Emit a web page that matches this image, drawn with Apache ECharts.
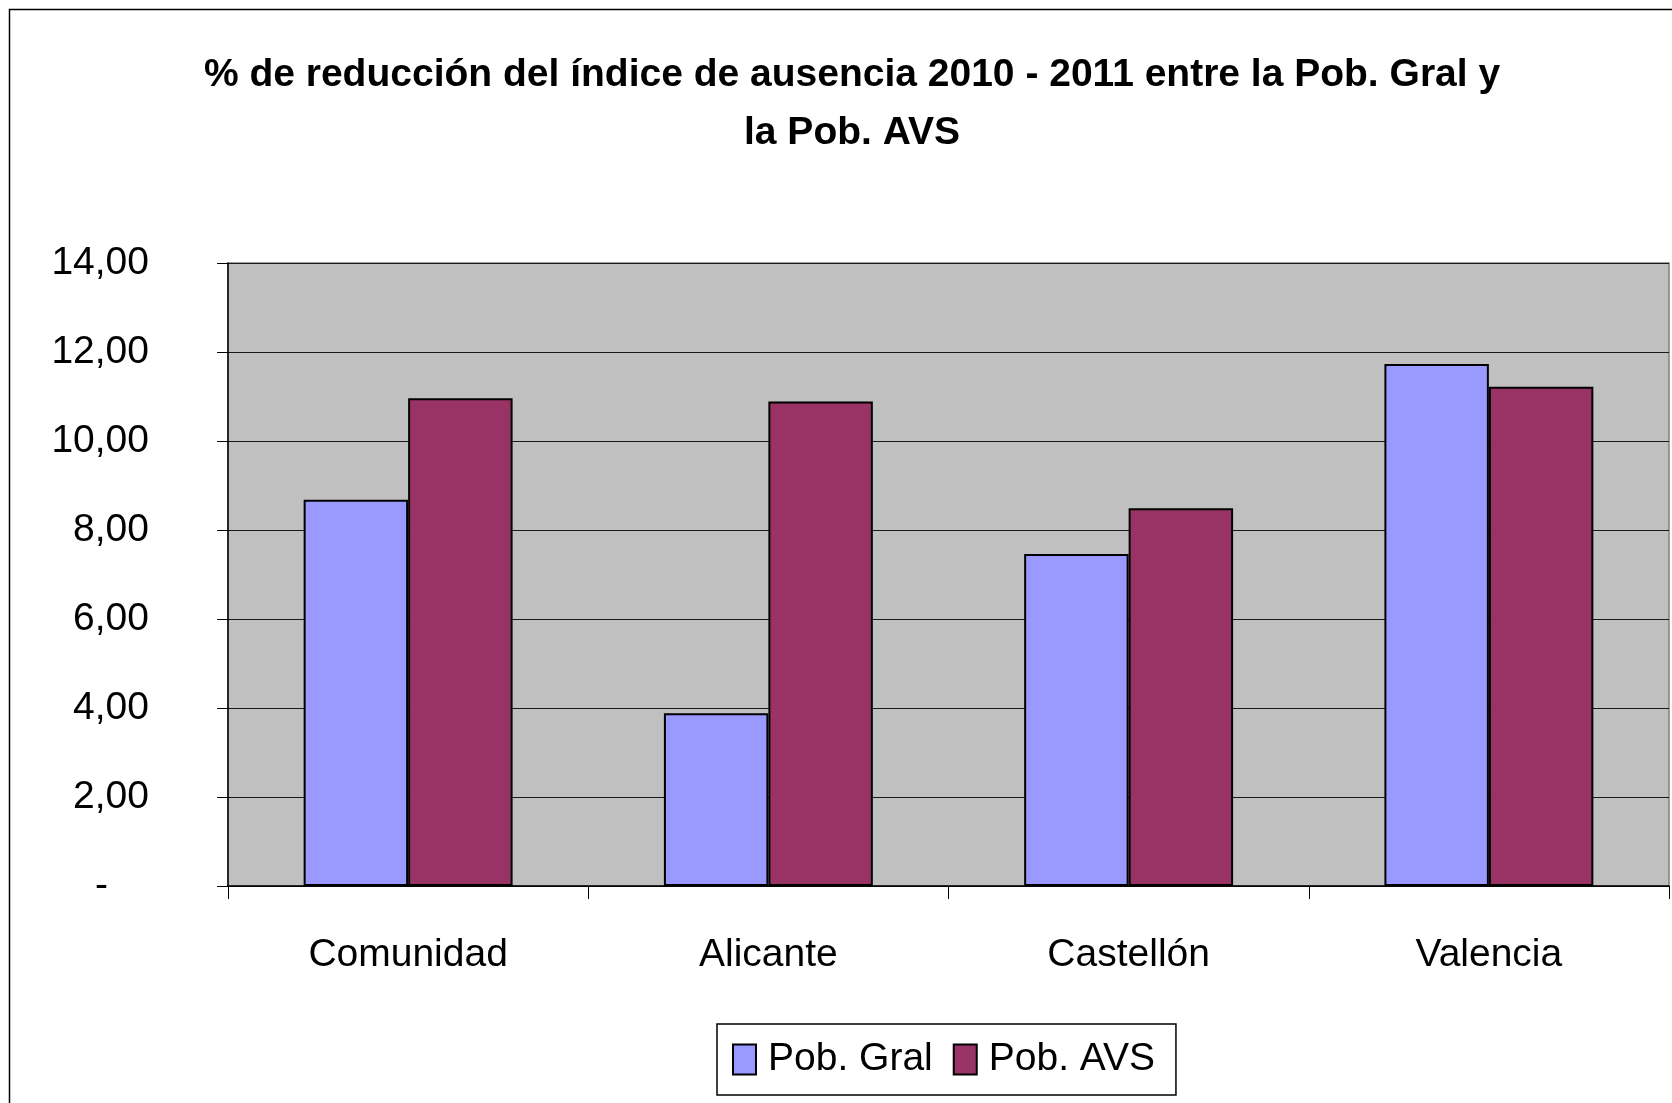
<!DOCTYPE html>
<html>
<head>
<meta charset="utf-8">
<title>% de reducción del índice de ausencia</title>
<script src="https://cdn.jsdelivr.net/npm/echarts@6/dist/echarts.min.js"></script>
<style>
  html, body { margin: 0; padding: 0; background: #fff; }
  #chart { width: 1672px; height: 1103px; }
</style>
</head>
<body>
<div id="chart"></div>
<script>
const categories = ['Comunidad', 'Alicante', 'Castellón', 'Valencia'];
const pobGral = [8.68, 3.88, 7.46, 11.73];
const pobAvs = [10.96, 10.89, 8.49, 11.22];
const yTicks = { min: 0, max: 14, interval: 2 };

const FONT = '"Liberation Sans", Arial, sans-serif';

const chart = echarts.init(document.getElementById('chart'));

// coma decimal; el cero se pinta como guion (formato contable de Excel)
const fmt = (v) => (v === 0 ? '{z|-}' : v.toFixed(2).replace('.', ','));

const option = {
  animation: false,
  backgroundColor: '#ffffff',
  textStyle: { fontFamily: FONT },
  graphic: [
    {
      type: 'rect',
      shape: { x: 9.5, y: 9.5, width: 1700, height: 1200 },
      style: { fill: 'none', stroke: '#000', lineWidth: 1.5 },
      silent: true
    }
  ],
  title: {
    text: '% de reducción del índice de ausencia 2010 - 2011 entre la Pob. Gral y\nla Pob. AVS',
    left: 852,
    top: 46,
    textAlign: 'center',
    padding: 0,
    textStyle: {
      fontFamily: FONT,
      fontSize: 39,
      fontWeight: 'bold',
      color: '#000',
      lineHeight: 58
    }
  },
  legend: {
    data: ['Pob. Gral', 'Pob. AVS'],
    left: 717,
    top: 1024,
    orient: 'horizontal',
    itemWidth: 23,
    itemHeight: 30,
    itemGap: 20,
    padding: [16, 21, 16, 15],
    borderColor: '#000',
    borderWidth: 1.5,
    backgroundColor: '#fff',
    icon: 'rect',
    itemStyle: { borderColor: '#000', borderWidth: 2 },
    textStyle: { fontFamily: FONT, fontSize: 39, color: '#000', padding: [0, 0, 0, 7] }
  },
  grid: {
    left: 228,
    right: 3,
    top: 263,
    height: 623,
    show: true,
    backgroundColor: '#C0C0C0',
    borderColor: '#808080',
    borderWidth: 1.5
  },
  xAxis: {
    type: 'category',
    data: categories,
    axisLine: { lineStyle: { color: '#000', width: 1.5 } },
    axisTick: { show: true, length: 13, lineStyle: { color: '#000' } },
    axisLabel: {
      fontFamily: FONT,
      fontSize: 39,
      color: '#000',
      margin: 50
    }
  },
  yAxis: {
    type: 'value',
    min: yTicks.min,
    max: yTicks.max,
    interval: yTicks.interval,
    axisLine: { show: true, lineStyle: { color: '#000', width: 1.5 } },
    axisTick: { show: true, length: 11, lineStyle: { color: '#000' } },
    splitLine: { lineStyle: { color: '#1a1a1a', width: 1.2 } },
    axisLabel: {
      fontFamily: FONT,
      fontSize: 39,
      color: '#000',
      margin: 79,
      formatter: fmt,
      rich: {
        z: { fontFamily: FONT, fontSize: 39, color: '#000', padding: [0, 41, 0, 0] }
      }
    }
  },
  series: [
    {
      name: 'Pob. Gral',
      type: 'bar',
      data: pobGral,
      barGap: '0%',
      barCategoryGap: '42%',
      itemStyle: { color: '#9999FF', borderColor: '#000', borderWidth: 2 }
    },
    {
      name: 'Pob. AVS',
      type: 'bar',
      data: pobAvs,
      itemStyle: { color: '#993366', borderColor: '#000', borderWidth: 2 }
    }
  ]
};

chart.setOption(option);
</script>
</body>
</html>
